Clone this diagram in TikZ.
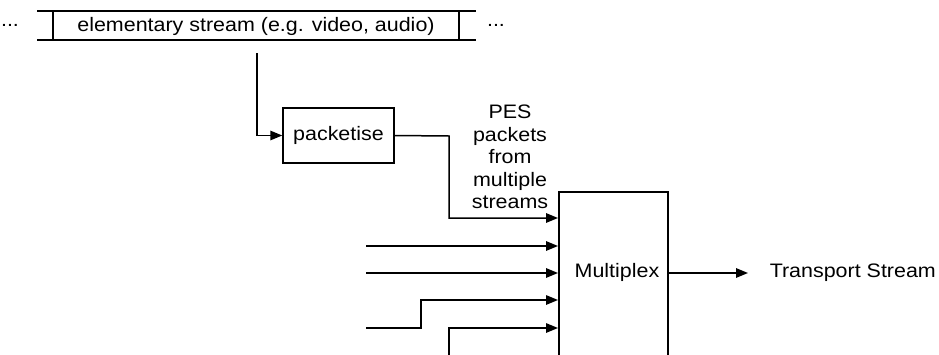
\documentclass[tikz,border=0pt]{standalone}
\usepackage{fontspec}
\setmainfont{Liberation Sans}[FakeStretch=1.1]
\usetikzlibrary{arrows.meta}
\begin{document}
\begin{tikzpicture}[x=1pt,y=-1pt,line width=1.5pt,
  >={Triangle[length=12pt,width=9.5pt]},
  every node/.style={font=\fontsize{19.5}{22.4}\selectfont,inner sep=0pt},
  boxed/.style={draw,rectangle,line width=1.5pt}]
\useasboundingbox (0,0) rectangle (939,354);
\clip (0,0) rectangle (939,354);
% elementary stream ribbon
\node[rectangle,minimum width=406pt,minimum height=29pt,outer sep=0pt] (es) at (256,25.5) {};
\node (estext) at (256,26) {elementary stream (e.g. video, audio)};
\draw ([xshift=-16pt]es.north west) -- ([xshift=17pt]es.north east);
\draw ([xshift=-16pt]es.south west) -- ([xshift=17pt]es.south east);
\draw (es.north west) -- (es.south west);
\draw (es.north east) -- (es.south east);
\node (dl) at (10,25) {...};
\node (dr) at (496,25) {...};
% packetise
\node[boxed,minimum width=111pt,minimum height=55pt] (pk) at (338.5,135.5) {packetise};
\coordinate (src) at (257,53);
\draw[->] (src) |- (pk.west);
% multiplex
\node[boxed,anchor=north west,minimum width=109pt,minimum height=220pt] (mux) at (558,191) {};
\node (muxl) at (617,272) {Multiplex};
\coordinate (i1) at (558,218);
\coordinate (i2) at (558,246);
\coordinate (i3) at (558,273);
\coordinate (i4) at (558,300);
\coordinate (i5) at (558,328);
\coordinate (s2) at (366,246);
\coordinate (s3) at (366,273);
\coordinate (s4) at (366,328);
\coordinate (k4) at (421,328);
\coordinate (s5) at (449,370);
\coordinate (k1) at (449,136);
\draw[->] (pk.east) -- (k1) |- (i1);
\draw[->] (s2) -- (i2);
\draw[->] (s3) -- (i3);
\draw[->] (s4) -- (k4) |- (i4);
\draw[->] (s5) |- (i5);
\node[align=center] (pes) at (510,157) {PES\\packets\\from\\multiple\\streams};
% output
\coordinate (mo) at (667,273);
\coordinate (oe) at (748,273);
\draw[->] (mo) -- (oe);
\node[anchor=west] (ts) at (769,273) {Transport Stream};
\end{tikzpicture}
\end{document}
